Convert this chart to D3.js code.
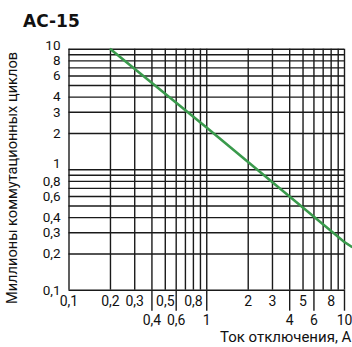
<!DOCTYPE html>
<html><head><meta charset="utf-8">
<script src="https://cdn.jsdelivr.net/npm/d3@7"></script>
<style>
html,body{margin:0;padding:0;background:#fff;}
svg{display:block;}
text{font-family:Roboto,"DejaVu Sans",sans-serif;fill:#111;}
</style></head>
<body>
<svg id="c" width="352" height="347"></svg>
<script>
const title = "AC-15";
const yTitle = "Миллионы коммутационных циклов";
const xTitle = "Ток отключения, А";
const gridX = [0.1,0.2,0.3,0.4,0.5,0.6,0.7,0.8,0.9,1,2,3,4,5,6,7,8,9,10];
const gridY = [0.1,0.2,0.3,0.4,0.5,0.6,0.7,0.8,0.9,1,2,3,4,5,6,7,8,9,10];
const yTickLabels = [0.1,0.2,0.3,0.4,0.6,0.8,1,2,3,4,6,8,10];
const xTopLabels = [0.1,0.2,0.3,0.5,0.8,2,3,5,8];
const xBottomLabels = [0.4,0.6,1,4,6,10];
const current = [0.2, 1, 10, 11.5];
const cycles = [10, 2.23, 0.25, 0.225];

const svg = d3.select("#c");
const L = 68.5, R = 344, T = 48.7, B = 289.7;
const x = d3.scaleLog().domain([0.1,10]).range([L,R]);
const y = d3.scaleLog().domain([0.1,10]).range([B,T]);
const fmt = v => String(v).replace(".", ",");
const FONT = "Roboto,'DejaVu Sans',sans-serif";

// vertical grid
const gx = svg.append("g").attr("transform",`translate(0,${B})`)
  .call(d3.axisBottom(x).tickValues(gridX).tickSize(-(B-T)).tickFormat(""));
gx.select(".domain").remove();
gx.selectAll("line").attr("stroke","#1a1a1a").attr("stroke-width",1.4);

// long ticks below
const gl = svg.append("g").attr("transform",`translate(0,${B})`)
  .call(d3.axisBottom(x).tickValues(xBottomLabels).tickSize(21).tickFormat(""));
gl.select(".domain").remove();
gl.selectAll("line").attr("stroke","#1a1a1a").attr("stroke-width",1.4);

// horizontal grid
const gy = svg.append("g").attr("transform",`translate(${L},0)`)
  .call(d3.axisLeft(y).tickValues(gridY).tickSize(-(R-L)).tickFormat(""));
gy.select(".domain").remove();
gy.selectAll("line").attr("stroke","#1a1a1a").attr("stroke-width",1.4);

// y labels
const ya = svg.append("g").attr("transform",`translate(${L},0)`)
  .call(d3.axisLeft(y).tickValues(yTickLabels).tickSize(0).tickPadding(8).tickFormat(fmt));
ya.select(".domain").remove();
ya.selectAll("text").attr("font-size",13.5).attr("fill","#111").style("font-family",FONT)
  .attr("dy", d => d === 10 ? "0.05em" : d === 1 ? "-0.12em" : "0.32em");

// x labels top row
const xa = svg.append("g").attr("transform",`translate(0,${B})`)
  .call(d3.axisBottom(x).tickValues(xTopLabels).tickSize(0).tickPadding(6).tickFormat(fmt));
xa.select(".domain").remove();
xa.selectAll("text").attr("font-size",14).attr("fill","#111").style("font-family",FONT);

// x labels bottom row
const xb = svg.append("g").attr("transform",`translate(0,${B})`)
  .call(d3.axisBottom(x).tickValues(xBottomLabels).tickSize(0).tickPadding(25).tickFormat(fmt));
xb.select(".domain").remove();
xb.selectAll("text").attr("font-size",14).attr("fill","#111").style("font-family",FONT);

// curve
const pts = current.map((c,i)=>[c,cycles[i]]);
svg.append("path").datum(pts)
  .attr("fill","none").attr("stroke","#3a9a4c").attr("stroke-width",2.6)
  .attr("d", d3.line().x(d=>x(d[0])).y(d=>y(d[1])));

// titles
svg.append("text").attr("x",23).attr("y",27).attr("font-size",17)
  .attr("font-weight","bold").style("font-family","'DejaVu Sans',sans-serif").text(title);
svg.append("text").attr("transform",`translate(17,178) rotate(-90)`)
  .attr("text-anchor","middle").attr("font-size",14.6).text(yTitle);
svg.append("text").attr("x",220).attr("y",342).attr("font-size",15).text(xTitle);
</script>
</body></html>
